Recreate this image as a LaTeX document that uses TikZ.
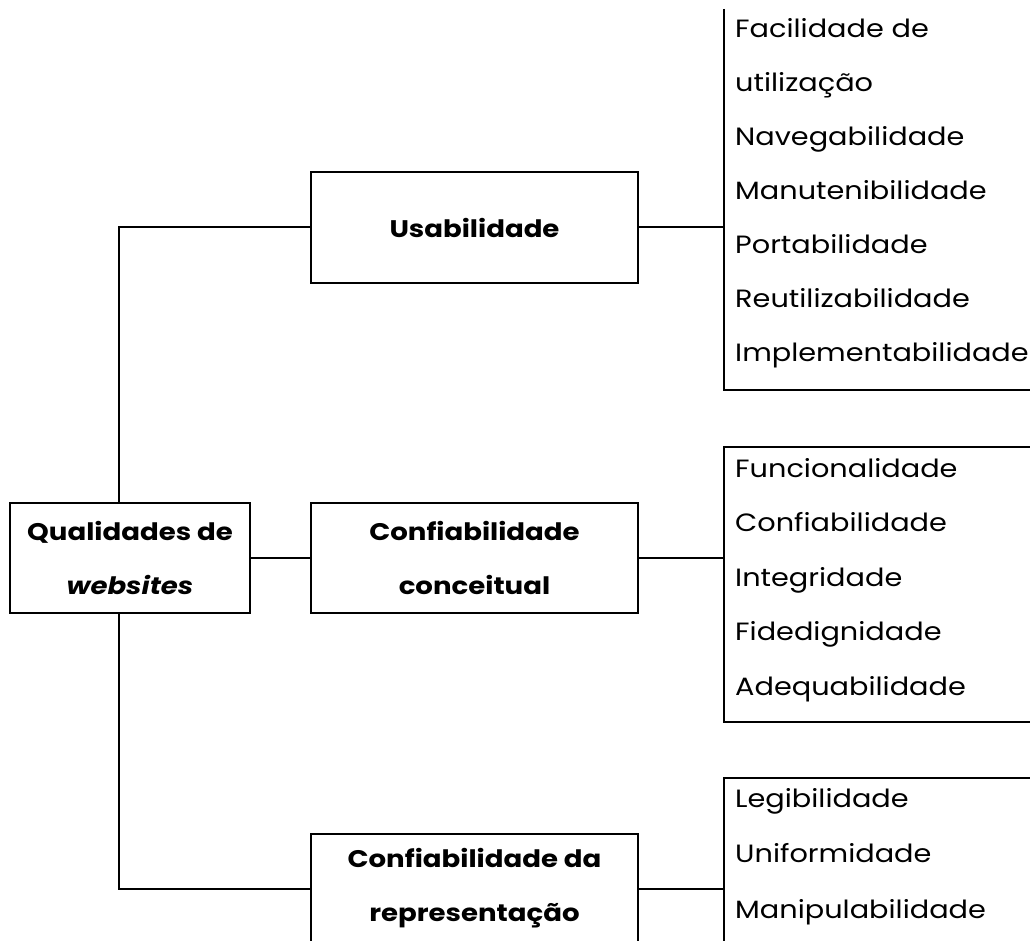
\documentclass[tikz,border=0pt]{standalone}
\usepackage{fontspec}
\setmainfont{Poppins}[FakeStretch=1.15]
\begin{document}
\begin{tikzpicture}[x=1pt,y=-1pt,
  line/.style={line width=2pt},
  box/.style={draw,line width=2pt,minimum width=327pt,minimum height=110pt,inner sep=0pt,align=center,
    font=\fontsize{24}{54}\selectfont\bfseries},
  item/.style={anchor=base west,inner sep=0pt,font=\fontsize{25}{30}\selectfont}]
\useasboundingbox (0,0) rectangle (1030,941);
\clip (0,0) rectangle (1030,941);
% boxes
\node[box,minimum width=240pt] (q) at (130,558) {Qualidades de\\\textit{websites}};
\node[box] (u) at (474.5,227.5) {Usabilidade};
\node[box] (c) at (474.5,558) {Confiabilidade\\conceitual};
\node[box] (r) at (474.5,888.5) {Confiabilidade da\\representação};
% trunk
\coordinate (t1) at (119,227.5);
\coordinate (t2) at (119,888.5);
\draw[line] (u.west) -- (t1) -- (t1 |- q.north);
\draw[line] (t1 |- q.south) -- (t2) -- (r.west);
\draw[line] (q.east) -- (c.west);
% brackets
\coordinate (b1) at (724,227.5);
\coordinate (b2) at (724,558);
\coordinate (b3) at (724,888.5);
\draw[line] (u.east) -- (b1);
\draw[line] (c.east) -- (b2);
\draw[line] (r.east) -- (b3);
\draw[line] (724,9) -- (724,390) -- (1032,390);
\draw[line] (1032,447) -- (724,447) -- (724,722) -- (1032,722);
\draw[line] (1032,778) -- (724,778) -- (724,950);
% lists
\foreach \t [count=\i] in {Facilidade de,utilização,Navegabilidade,Manutenibilidade,Portabilidade,Reutilizabilidade,Implementabilidade}
  \node[item] (ua\i) at (735,37.5+54*\i-54) {\t};
\foreach \t [count=\i] in {Funcionalidade,Confiabilidade,Integridade,Fidedignidade,Adequabilidade}
  \node[item] (ca\i) at (735,477+54.5*\i-54.5) {\t};
\foreach \t [count=\i] in {Legibilidade,Uniformidade,Manipulabilidade}
  \node[item] (ra\i) at (735,807+55.5*\i-55.5) {\t};
\end{tikzpicture}
\end{document}
